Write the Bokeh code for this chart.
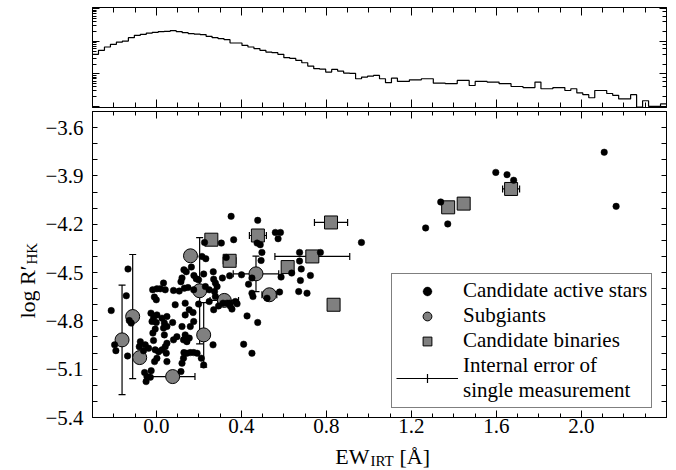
import math
from bokeh.plotting import figure
from bokeh.models import (Range1d, FixedTicker, LinearAxis, LogAxis, Whisker, TeeHead,
                          ColumnDataSource, Legend, LegendItem, Label, CustomJSTickFormatter)
from bokeh.layouts import column, row
from bokeh.embed import file_html
from bokeh.resources import INLINE

FONT = "Liberation Serif"
NAN = float("nan")

# ---------------- data ----------------
active_x = [-0.133, -0.141, 0.227, 0.215, 0.233, 0.130, 0.141, 0.165, 0.121, 0.116,
            0.177, 0.188, 0.223, 0.199, 0.268, 0.270, 0.034, 0.019, 0.042, -0.017,
            0.003, 0.081, 0.108, 0.132, 0.149, 0.176, 0.231, 0.249, -0.009, 0.000,
            0.089, 0.136, 0.199, 0.249, 0.352, 0.477, 0.560, 0.584, 0.573, 0.306,
            0.364, 0.474, 0.489, 0.497, 0.493, 0.329, 0.674, 0.772, 0.674, 0.682,
            0.637, 0.725, 0.678, 0.311, 0.345, 0.401, 0.450, 0.278, 0.286, 0.587,
            0.434, 0.450, 0.455, 0.521, 0.580, 0.670, 0.709, 0.274, 0.278, 0.345,
            0.372, -0.212, -0.127, -0.118, -0.196, -0.190, -0.135, -0.075, -0.080, -0.052,
            -0.036, -0.060, -0.055, -0.044, -0.048, -0.024, -0.028, -0.025, 0.003, -0.013,
            -0.020, 0.000, 0.027, 0.038, 0.050, -0.005, -0.016, 0.034, 0.050, 0.038,
            0.077, 0.121, 0.136, 0.155, 0.173, 0.176, 0.160, 0.136, 0.097, 0.081,
            -0.013, -0.005, 0.011, 0.027, 0.042, 0.050, 0.047, 0.050, 0.003, -0.008,
            0.128, 0.144, 0.155, 0.130, 0.144, 0.160, 0.176, 0.192, 0.128, 0.121,
            0.116, 0.212, 0.223, 0.267, 0.270, 0.293, 0.314, 0.333, 0.348, 0.380,
            0.356, 0.427, 0.477, 0.411, 0.450, 0.965, 1.267, 1.338, 1.371, 1.597,
            1.650, 1.681, 2.107, 2.163]
active_y = [-4.478, -4.644, -4.313, -4.400, -4.414, -4.483, -4.495, -4.466, -4.534, -4.557,
            -4.518, -4.539, -4.509, -4.545, -4.495, -4.541, -4.565, -4.601, -4.607, -4.607,
            -4.601, -4.611, -4.615, -4.597, -4.593, -4.607, -4.587, -4.607, -4.652, -4.669,
            -4.700, -4.690, -4.696, -4.680, -4.151, -4.176, -4.251, -4.251, -4.290, -4.317,
            -4.296, -4.317, -4.327, -4.375, -4.425, -4.406, -4.375, -4.375, -4.429, -4.478,
            -4.503, -4.518, -4.549, -4.534, -4.520, -4.514, -4.534, -4.565, -4.587, -4.528,
            -4.572, -4.628, -4.649, -4.659, -4.621, -4.618, -4.628, -4.618, -4.649, -4.690,
            -4.680, -4.736, -4.798, -4.814, -4.949, -4.985, -5.018, -4.929, -4.960, -4.949,
            -4.970, -4.986, -5.121, -5.146, -5.177, -5.109, -5.150, -4.752, -4.763, -4.783,
            -4.804, -4.810, -4.783, -4.814, -4.773, -4.851, -4.876, -4.845, -4.835, -4.887,
            -4.810, -4.835, -4.763, -4.731, -4.748, -4.804, -4.835, -4.887, -4.898, -4.918,
            -4.922, -4.980, -4.991, -4.980, -4.960, -4.939, -5.001, -5.053, -5.032, -5.053,
            -4.918, -4.929, -4.907, -4.997, -5.001, -4.997, -4.997, -5.001, -5.032, -5.063,
            -5.115, -5.032, -5.074, -4.949, -4.731, -4.707, -4.690, -4.690, -4.707, -4.694,
            -4.727, -4.769, -4.810, -4.945, -5.001, -4.313, -4.223, -4.062, -4.198, -3.878,
            -3.892, -3.927, -3.753, -4.089]

subgiant_x = [-0.161, -0.111, -0.078, 0.077, 0.161, 0.204, 0.223, 0.320, 0.469, 0.532]
subgiant_y = [-4.918, -4.773, -5.028, -5.146, -4.396, -4.613, -4.887, -4.673, -4.508, -4.638]
subgiant_xerr = [0.0, 0.0, 0.0, 0.105, 0.0, 0.0, 0.0, 0.067, 0.107, 0.035]
subgiant_yerr = [0.34, 0.385, 0.0, 0.0, 0.0, 0.33, 0.20, 0.03, 0.11, 0.0]

binary_x = [0.259, 0.345, 0.478, 0.618, 0.734, 0.822, 0.834, 1.373, 1.446, 1.669]
binary_y = [-4.296, -4.427, -4.270, -4.466, -4.400, -4.189, -4.700, -4.095, -4.072, -3.981]
binary_xerr = [0.0, 0.03, 0.04, 0.0, 0.176, 0.078, 0.0, 0.0, 0.0, 0.04]

hist_start = -0.3
hist_bin_width = 0.028125
hist_counts = [40, 53, 67, 81, 95, 102, 130, 153, 164, 180,
               189, 200, 203, 213, 199, 185, 173, 167, 161, 143,
               130, 121, 113, 89, 89, 75, 67, 60, 53, 47,
               45, 40, 31.5, 30, 26, 22, 17.4, 14.5, 14, 11.4,
               13.7, 12.2, 10.6, 10.4, 7.1, 8.0, 8.5, 9.0, 7.1, 5.4,
               7.4, 5.9, 5.9, 6.6, 6.6, 7.1, 7.1, 5.2, 5.2, 5.0,
               5.0, 6.3, 6.3, 4.4, 5.9, 5.9, 5.6, 5.6, 5.0, 5.0,
               4.1, 4.1, 3.8, 3.8, 5.6, 3.5, 3.5, 3.8, 3.8, 3.1,
               3.5, 2.6, 2.3, 1.85, 3.1, 3.1, 2.5, 2.2, 1.7, 1.7,
               2.3, 0.95, 1.5, 1.0, 1.0, 1.2]

x_tick_values = [0.0, 0.4, 0.8, 1.2, 1.6, 2.0]
x_tick_labels = ["0.0", "0.4", "0.8", "1.2", "1.6", "2.0"]
x_minor_values = [-0.2, -0.1, 0.1, 0.2, 0.3, 0.5, 0.6, 0.7, 0.9, 1.0, 1.1, 1.3, 1.4,
                  1.5, 1.7, 1.8, 1.9, 2.1, 2.2, 2.3]
y_tick_values = [-3.6, -3.9, -4.2, -4.5, -4.8, -5.1, -5.4]
y_tick_labels = ["\u22123.6", "\u22123.9", "\u22124.2", "\u22124.5", "\u22124.8", "\u22125.1", "\u22125.4"]
y_minor_values = [-3.5, -3.7, -3.8, -4.0, -4.1, -4.3, -4.4, -4.6, -4.7, -4.9, -5.0, -5.2, -5.3]

# ---------------- helpers ----------------
LABEL_JS = """
let best = 0; let d = 1e9;
for (let i = 0; i < vals.length; i++) {
  const dd = Math.abs(vals[i] - tick);
  if (dd < d) { d = dd; best = i; }
}
return labs[best];
"""


def style_axis(ax, labels=True, major_in=7, minor_in=4, size="21px", standoff=6):
    ax.major_tick_in = major_in
    ax.major_tick_out = 0
    ax.minor_tick_in = minor_in
    ax.minor_tick_out = 0
    ax.axis_line_color = "black"
    ax.major_tick_line_color = "black"
    ax.minor_tick_line_color = "black"
    ax.axis_line_width = 1
    if labels:
        ax.major_label_text_font = FONT
        ax.major_label_text_font_size = size
        ax.major_label_text_color = "black"
        ax.major_label_standoff = standoff
    else:
        ax.formatter = CustomJSTickFormatter(code="return '';")
        ax.major_label_text_font_size = "1px"
        ax.major_label_standoff = 0


def x_ticker():
    return FixedTicker(ticks=x_tick_values, minor_ticks=x_minor_values)


def y_ticker():
    return FixedTicker(ticks=y_tick_values, minor_ticks=y_minor_values)


def blank_fig(fw, fh, left=0, right=0, top=0, bottom=0):
    f = figure(frame_width=fw, frame_height=fh, x_range=Range1d(0, 1), y_range=Range1d(0, 1),
               min_border_left=left, min_border_right=right,
               min_border_top=top, min_border_bottom=bottom,
               x_axis_type=None, y_axis_type=None,
               toolbar_location=None, output_backend="svg")
    f.outline_line_color = None
    f.grid.visible = False
    return f


def lab(fig, text, x, y, size, align="left", angle=0.0):
    fig.add_layout(Label(x=x, y=y, x_units="screen", y_units="screen", text=text,
                         text_font=FONT, text_font_size=size, text_color="black",
                         text_align=align, text_baseline="alphabetic", angle=angle))


x_range = Range1d(-0.3, 2.4)

# ---------------- histogram panel ----------------
ph = figure(x_range=x_range, y_range=Range1d(0.93, 1096), y_axis_type="log",
            frame_width=574, frame_height=100,
            min_border_left=92, min_border_right=10, min_border_top=7, min_border_bottom=2,
            toolbar_location=None, output_backend="svg")
ph.grid.visible = False
ph.outline_line_color = "black"
ph.xaxis[0].ticker = x_ticker()
style_axis(ph.xaxis[0], labels=False, major_in=8, minor_in=5)
style_axis(ph.yaxis[0], labels=False, major_in=7, minor_in=4)
top_ax = LinearAxis(ticker=x_ticker())
style_axis(top_ax, labels=False, major_in=8, minor_in=5)
ph.add_layout(top_ax, "above")
right_log = LogAxis()
style_axis(right_log, labels=False, major_in=7, minor_in=4)
ph.add_layout(right_log, "right")

edges = [hist_start + hist_bin_width * i for i in range(len(hist_counts) + 1)]
ph.step(x=edges, y=list(hist_counts) + [hist_counts[-1]], mode="after",
        line_color="black", line_width=1.2)

# ---------------- main panel ----------------
p = figure(x_range=x_range, y_range=Range1d(-5.4, -3.5),
           frame_width=574, frame_height=306,
           min_border_left=52, min_border_right=10, min_border_top=2, min_border_bottom=27,
           toolbar_location=None, output_backend="svg")
p.grid.visible = False
p.outline_line_color = "black"

bx = p.xaxis[0]
bx.ticker = x_ticker()
bx.formatter = CustomJSTickFormatter(args=dict(vals=x_tick_values, labs=x_tick_labels), code=LABEL_JS)
style_axis(bx, labels=True, major_in=7, minor_in=4, standoff=1)
ly = p.yaxis[0]
ly.ticker = y_ticker()
ly.formatter = CustomJSTickFormatter(args=dict(vals=y_tick_values, labs=y_tick_labels), code=LABEL_JS)
style_axis(ly, labels=True, major_in=5, minor_in=5, standoff=9)
ax_top = LinearAxis(ticker=x_ticker())
style_axis(ax_top, labels=False, major_in=7, minor_in=4)
p.add_layout(ax_top, "above")
ax_right = LinearAxis(ticker=y_ticker())
style_axis(ax_right, labels=False, major_in=5, minor_in=5)
p.add_layout(ax_right, "right")


def whiskers(base_vals, centers, errs, dim):
    b = [bv for bv, e in zip(base_vals, errs) if e > 0]
    lo = [c - e for c, e in zip(centers, errs) if e > 0]
    hi = [c + e for c, e in zip(centers, errs) if e > 0]
    src = ColumnDataSource(dict(base=b, lower=lo, upper=hi))
    w = Whisker(source=src, base="base", lower="lower", upper="upper", dimension=dim,
                line_color="black", line_width=1.2, level="underlay",
                upper_head=TeeHead(size=7, line_color="black", line_width=1.2),
                lower_head=TeeHead(size=7, line_color="black", line_width=1.2))
    p.add_layout(w)


whiskers(subgiant_x, subgiant_y, subgiant_yerr, "height")
whiskers(subgiant_y, subgiant_x, subgiant_xerr, "width")
whiskers(binary_y, binary_x, binary_xerr, "width")

GREY = "#808080"
r_sub = p.scatter(subgiant_x, subgiant_y, marker="circle", size=14,
                  fill_color=GREY, line_color="black", line_width=1)
r_bin = p.scatter(binary_x, binary_y, marker="square", size=13,
                  fill_color=GREY, line_color="black", line_width=1)
r_act = p.scatter(active_x, active_y, marker="circle", size=6.5,
                  fill_color="black", line_color="black", line_width=0.5)

# legend-only renderers (a single NaN point: never drawn in the plot)
leg_seg = p.segment(x0=[NAN], y0=[NAN], x1=[NAN], y1=[NAN], line_color="black", line_width=1.2)
leg_cross = p.scatter(x=[NAN], y=[NAN], marker="cross", size=10, line_color="black", line_width=1.2)

legend = Legend(items=[
    LegendItem(label="Candidate active stars", renderers=[leg_cross, r_act]),
    LegendItem(label="Subgiants", renderers=[r_sub]),
    LegendItem(label="Candidate binaries", renderers=[r_bin]),
    LegendItem(label="Internal error of\nsingle measurement", renderers=[leg_seg, leg_cross]),
], location=(299, 9), orientation="vertical",
    label_text_font=FONT, label_text_font_size="21px", label_text_color="black",
    label_text_line_height=0.95,
    glyph_width=62, glyph_height=22, label_height=20, label_standoff=5, padding=4, spacing=-3,
    margin=0, border_line_color="black", border_line_width=1,
    background_fill_color="white", background_fill_alpha=1)
p.add_layout(legend)

# ---------------- axis title strips ----------------
# y title strip mirrors the main panel vertically (frame = canvas y 111..417)
ylab = blank_fig(40, 306, top=2, bottom=27)
lab(ylab, "log R\u2032", 27, 99, "22px", angle=math.pi / 2)
lab(ylab, "HK", 31, 153, "15px", angle=math.pi / 2)

# x title strip mirrors the main panel horizontally (frame = canvas x 92..666, y 444..470)
xlab = blank_fig(574, 26, left=92, right=10)
lab(xlab, "EW", 277, 14.5, "22px", align="right")
lab(xlab, "IRT", 278, 9.5, "15px")
lab(xlab, "[\u00c5]", 307, 14.5, "22px")

layout = column(ph, row(ylab, p), xlab)
open("out.html", "w").write(file_html(layout, INLINE))
